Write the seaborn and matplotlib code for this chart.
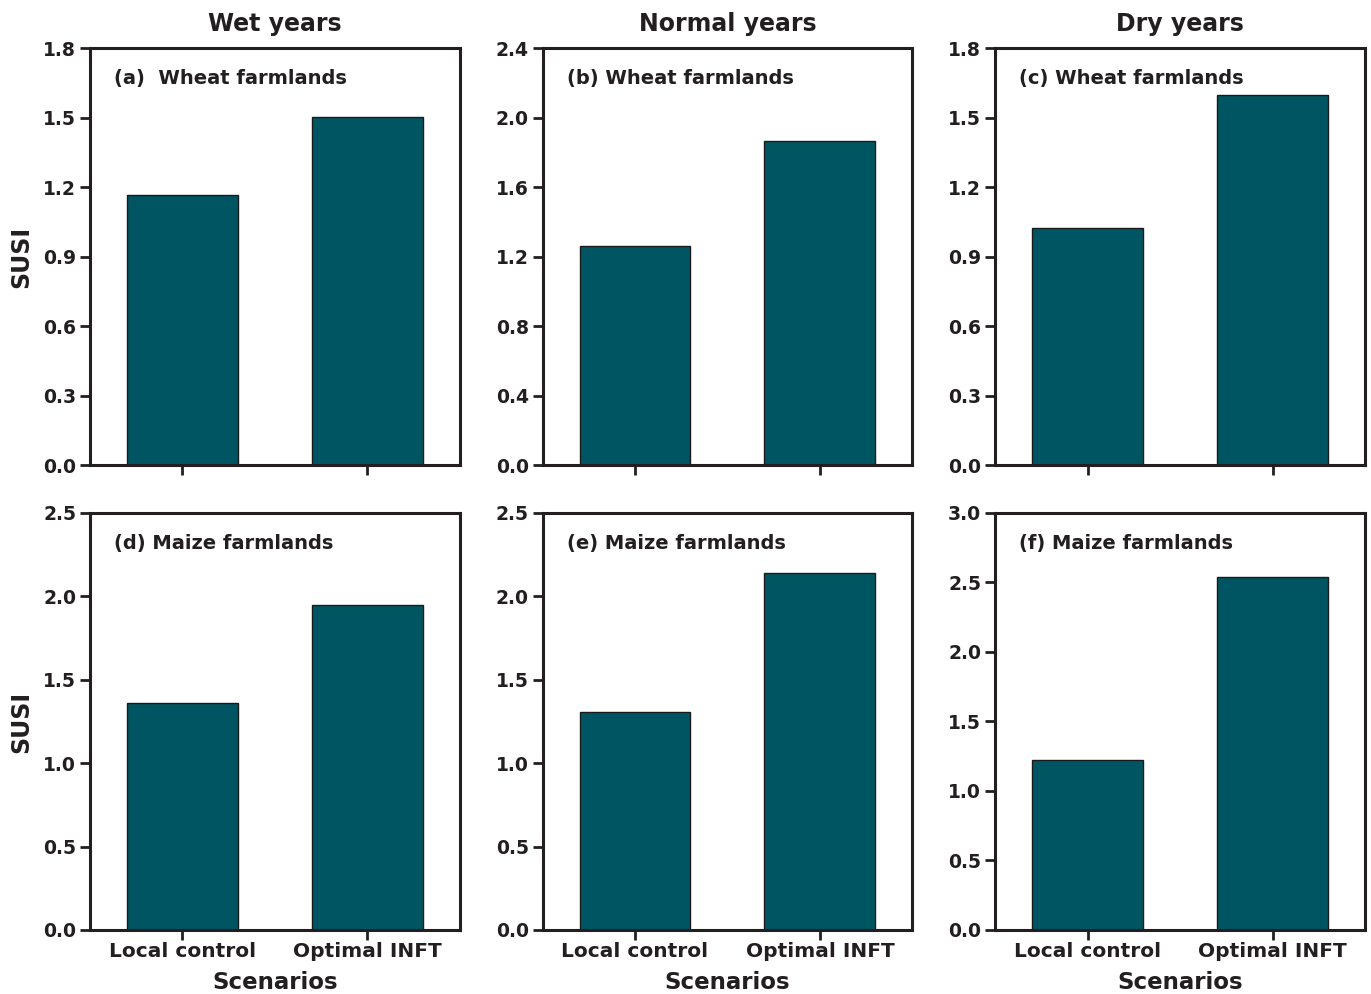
import matplotlib
matplotlib.use("Agg")
import matplotlib.pyplot as plt
import seaborn as sns
import pandas as pd

# data
scenarios = ["Local control", "Optimal INFT"]
col_titles = ["Wet years", "Normal years", "Dry years"]
panel_labels = ["(a)  Wheat farmlands", "(b) Wheat farmlands", "(c) Wheat farmlands",
                "(d) Maize farmlands", "(e) Maize farmlands", "(f) Maize farmlands"]
wheat_susi = [[1.165, 1.502], [1.26, 1.865], [1.023, 1.597]]
maize_susi = [[1.361, 1.948], [1.304, 2.139], [1.223, 2.54]]
ymax = [1.8, 2.4, 1.8, 2.5, 2.5, 3.0]
ystep = [0.3, 0.4, 0.3, 0.5, 0.5, 0.5]

bar_color = "#005562"
ink = "#231f20"

sns.set_theme(style="white")
plt.rcParams["font.family"] = ["DejaVu Sans"]
plt.rcParams["font.weight"] = "bold"

fig, axes = plt.subplots(2, 3, figsize=(13.71, 9.94), dpi=100)
fig.subplots_adjust(left=0.0656, right=0.9956, top=0.9517, bottom=0.0644,
                    wspace=0.224, hspace=0.115)

all_vals = wheat_susi + maize_susi
for i, ax in enumerate(axes.flat):
    df = pd.DataFrame({"Scenario": scenarios, "SUSI": all_vals[i]})
    sns.barplot(data=df, x="Scenario", y="SUSI", color=bar_color, saturation=1,
                width=0.6, edgecolor="#1a1a1a", linewidth=1, ax=ax)
    ax.set_xlim(-0.5, 1.5)
    ax.set_ylim(0, ymax[i])
    n = int(round(ymax[i] / ystep[i]))
    ticks = [ystep[i] * k for k in range(n + 1)]
    ax.set_yticks(ticks)
    ax.set_yticklabels([f"{t:.1f}" for t in ticks], fontsize=13.5, fontweight="bold",
                       color=ink)
    for sp in ax.spines.values():
        sp.set_linewidth(2.2)
        sp.set_color(ink)
    ax.tick_params(axis="both", direction="out", length=7, width=2, color=ink,
                   left=True, bottom=True, pad=3)
    ax.tick_params(axis="x", pad=1.5)
    ax.text(0.065, 0.928, panel_labels[i], transform=ax.transAxes, fontsize=14,
            fontweight="bold", va="center", ha="left", color=ink)
    row, col = divmod(i, 3)
    if row == 0:
        ax.set_xticklabels([])
        ax.set_xlabel("")
        ax.set_title(col_titles[col], fontsize=17, fontweight="bold", pad=12,
                     color=ink)
    else:
        ax.set_xticks([0, 1])
        ax.set_xticklabels(scenarios, fontsize=14.5, fontweight="bold", color=ink)
        ax.set_xlabel("Scenarios", fontsize=16.5, fontweight="bold", labelpad=7,
                      color=ink)
    if col == 0:
        ax.set_ylabel("SUSI", fontsize=17, fontweight="bold", labelpad=7,
                      color=ink)
    else:
        ax.set_ylabel("")

fig.savefig("out.png", dpi=100)
